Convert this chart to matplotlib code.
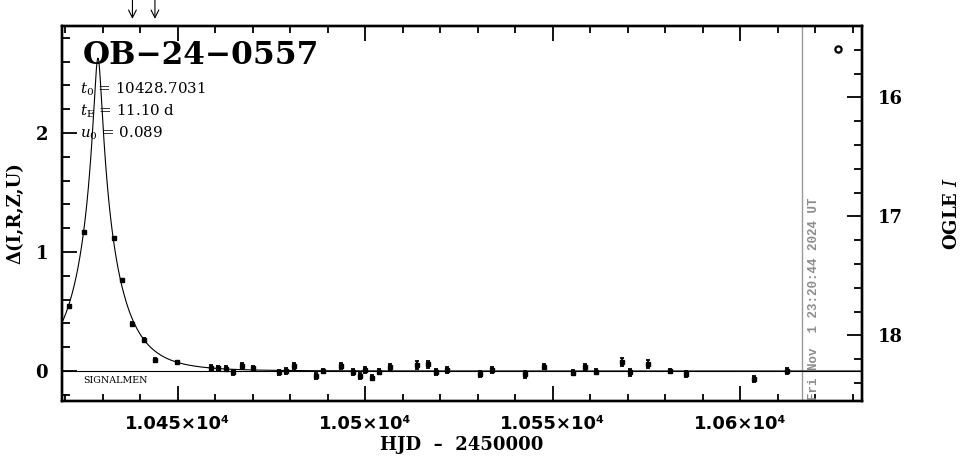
import numpy as np
import matplotlib
matplotlib.use("Agg")
import matplotlib.pyplot as plt
from matplotlib.ticker import MultipleLocator, FixedLocator, FuncFormatter

# event parameters (PSPL model)
event_name = "OB\u221224\u22120557"
t0 = 10428.7031
tE = 11.10
u0 = 0.089
I_base = 18.30          # OGLE I at Delta = 0
now_hjd = 10616.47      # "Fri Nov 1 23:20:44 2024 UT"
now_label = "Fri Nov  1 23:20:44 2024 UT"

# photometry
hjd = [10421.0, 10425.0, 10433.0, 10435.1, 10437.9, 10441.0, 10443.9, 10449.9,
       10458.8, 10460.7, 10462.8, 10464.7, 10467.0, 10470.1, 10477.0, 10478.8,
       10480.9, 10486.8, 10488.7, 10493.5, 10496.8, 10498.7, 10499.9, 10501.8,
       10503.6, 10506.5, 10513.7, 10516.8, 10518.8, 10521.7, 10530.5, 10533.8,
       10542.7, 10547.7, 10555.4, 10558.5, 10561.5, 10568.6, 10570.5, 10575.4,
       10581.4, 10585.6, 10603.7, 10612.6]
dmag = [0.546, 1.17, 1.12, 0.765, 0.395, 0.26, 0.092, 0.073,
        0.022, 0.022, 0.02, -0.01, 0.045, 0.022, -0.01, 0.0,
        0.045, -0.04, 0.0, 0.042, -0.005, -0.042, 0.008, -0.056,
        -0.005, 0.03, 0.05, 0.056, -0.011, 0.008, -0.028, 0.008,
        -0.028, 0.036, -0.014, 0.036, -0.005, 0.078, -0.011, 0.059,
        0.0, -0.028, -0.067, 0.003]
derr = [0.012, 0.01, 0.01, 0.012, 0.018, 0.018, 0.018, 0.015,
        0.025, 0.02, 0.02, 0.02, 0.025, 0.02, 0.02, 0.025,
        0.025, 0.025, 0.02, 0.025, 0.025, 0.025, 0.025, 0.02,
        0.02, 0.025, 0.03, 0.03, 0.025, 0.025, 0.025, 0.025,
        0.03, 0.02, 0.02, 0.025, 0.02, 0.035, 0.03, 0.035,
        0.02, 0.025, 0.025, 0.025]

# open circle in the upper right and arrow marks on top
circle_hjd = [10626.05]
circle_dmag = [2.71]
arrow_hjd = [10437.9, 10443.9]

xlim = (10419.1, 10632.5)
ylim = (-0.252, 2.90)

plt.rcParams['mathtext.fontset'] = 'dejavuserif'

fig = plt.figure(figsize=(9.65, 4.59), dpi=100)
ax = fig.add_axes([0.0642, 0.1264, 0.8291, 0.817])

# model curve
tt = np.linspace(xlim[0], xlim[1], 2000)
uu = np.sqrt(u0 ** 2 + ((tt - t0) / tE) ** 2)
amp = (uu ** 2 + 2) / (uu * np.sqrt(uu ** 2 + 4))
ax.plot(tt, 2.5 * np.log10(amp), color='k', lw=0.8, zorder=2)
ax.axhline(0, color='k', lw=0.8, zorder=1)

ax.errorbar(hjd, dmag, yerr=derr, fmt='s', ms=2.6, color='k', ecolor='k',
            elinewidth=1.3, capsize=1.6, capthick=1.3, zorder=3)
ax.plot(circle_hjd, circle_dmag, 'o', ms=4.5, mfc='white', mec='k', mew=1.6)

ax.axvline(now_hjd, color='#999999', lw=1.0, zorder=0)
ax.text(now_hjd + 1.5, -0.245, now_label, rotation=90, ha='left', va='bottom',
        color='#8c8c8c', fontsize=9.0, family='Liberation Mono', weight='bold')

for t in arrow_hjd:
    ax.annotate('', xy=(t, 1.019), xycoords=('data', 'axes fraction'),
                xytext=(0, 13.5), textcoords='offset points',
                arrowprops=dict(arrowstyle='->,head_length=0.55,head_width=0.28',
                                color='k', lw=0.8, shrinkA=0, shrinkB=0),
                annotation_clip=False)

ax.text(0.026, 0.962, event_name, transform=ax.transAxes, fontsize=22.5,
        family='DejaVu Serif', weight='bold', ha='left', va='top')
params = [r'$t_0$ = 10428.7031', r'$t_{\rm E}$ = 11.10 d', r'$u_0$ = 0.089']
for i, s in enumerate(params):
    ax.text(0.022, 0.82 - i * 0.0585, s, transform=ax.transAxes, fontsize=10.8,
            family='DejaVu Serif', ha='left', va='baseline')
ax.text(0.026, 0.055, 'SIGNALMEN', transform=ax.transAxes, fontsize=6.8,
        family='DejaVu Serif', ha='left', va='center')

ax.set_xlim(*xlim)
ax.set_ylim(*ylim)
ax.xaxis.set_major_locator(MultipleLocator(50))
ax.xaxis.set_minor_locator(MultipleLocator(10))
ax.xaxis.set_major_formatter(FuncFormatter(
    lambda v, p: ('%g' % (v / 1e4)) + '\u00d710\u2074'))
ax.yaxis.set_major_locator(MultipleLocator(1))
ax.yaxis.set_minor_locator(MultipleLocator(0.2))
ax.tick_params(axis='x', which='both', direction='in', top=True, bottom=True,
               width=1.3, pad=10)
ax.tick_params(axis='x', which='major', length=11)
ax.tick_params(axis='x', which='minor', length=5)
ax.tick_params(axis='y', which='both', direction='in', left=True, right=False,
               width=1.3, pad=10)
ax.tick_params(axis='y', which='major', length=11)
ax.tick_params(axis='y', which='minor', length=6)
for lab in ax.get_xticklabels():
    lab.set_family('DejaVu Sans')
    lab.set_weight('bold')
    lab.set_fontsize(13)
for lab in ax.get_yticklabels():
    lab.set_family('DejaVu Serif')
    lab.set_weight('bold')
    lab.set_fontsize(13)
for sp in ax.spines.values():
    sp.set_linewidth(1.7)

ax.set_xlabel('HJD  \u2013  2450000', family='DejaVu Serif', weight='bold',
              fontsize=13, labelpad=2)
ax.set_ylabel('\u0394(I,R,Z,U)', family='DejaVu Serif', weight='bold',
              fontsize=13, labelpad=8)

# OGLE I magnitude on the right
ax2 = ax.twinx()
ax2.set_ylim(I_base - ylim[0], I_base - ylim[1])
ax2.yaxis.set_major_locator(FixedLocator([16, 17, 18]))
ax2.yaxis.set_minor_locator(MultipleLocator(0.2))
ax2.tick_params(axis='y', which='both', direction='in', width=1.3, pad=11)
ax2.tick_params(axis='y', which='major', length=11)
ax2.tick_params(axis='y', which='minor', length=6)
for lab in ax2.get_yticklabels():
    lab.set_family('DejaVu Serif')
    lab.set_weight('bold')
    lab.set_fontsize(13)
ax2.set_ylabel(r'OGLE $\mathit{I}$', family='DejaVu Serif', weight='bold',
               fontsize=13, labelpad=29)
for sp in ax2.spines.values():
    sp.set_linewidth(1.7)

fig.savefig('out.png', dpi=100)
